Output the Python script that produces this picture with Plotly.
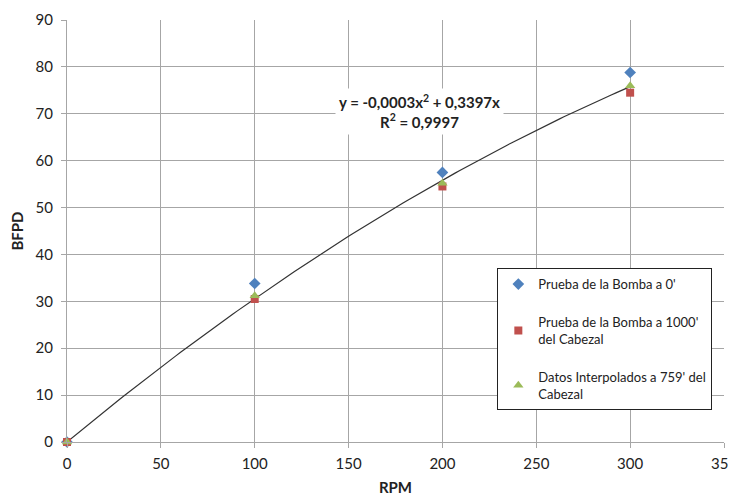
import numpy as np
import plotly.graph_objects as go

# values
rpm = [0, 100, 200, 300]
bfpd_0 = [0, 33.8, 57.5, 78.8]
bfpd_1000 = [0, 30.5, 54.5, 74.5]
bfpd_759 = [0, 31.2, 55.2, 76.0]

names = [
    "Prueba de la Bomba a 0'",
    "Prueba de la Bomba a 1000'<br>del Cabezal",
    "Datos Interpolados a 759' del<br>Cabezal",
]

FONT = "Lato, 'Open Sans', sans-serif"

# polynomial trendline through origin (order 2), fitted on the interpolated series
x = np.array(rpm, dtype=float)
A = np.vstack([x ** 2, x]).T
coef, *_ = np.linalg.lstsq(A, np.array(bfpd_759), rcond=None)
xs = np.linspace(0, 300, 120)
ys = coef[0] * xs ** 2 + coef[1] * xs

fig = go.Figure()

fig.add_trace(go.Scatter(
    x=xs, y=ys, mode="lines", line=dict(color="#333333", width=1.2),
    showlegend=False, hoverinfo="skip", cliponaxis=False
))
fig.add_trace(go.Scatter(
    x=rpm, y=bfpd_0, mode="markers", name=names[0], legendgroup="a", cliponaxis=False,
    marker=dict(symbol="diamond", size=9, color="#4F81BD")
))
fig.add_trace(go.Scatter(
    x=rpm, y=bfpd_1000, mode="markers", name=names[1], legendgroup="b", cliponaxis=False,
    marker=dict(symbol="square", size=8, color="#C0504D")
))
fig.add_trace(go.Scatter(
    x=rpm, y=bfpd_759, mode="markers", name=names[2], legendgroup="c", cliponaxis=False,
    marker=dict(symbol="triangle-up", size=9, color="#9BBB59")
))

fig.add_annotation(
    x=188, y=70.4, xref="x", yref="y",
    text="<b>y = -0,0003x<sup>2</sup> + 0,3397x<br>R<sup>2</sup> = 0,9997</b>",
    showarrow=False, bgcolor="white", font=dict(family=FONT, size=15, color="#222"),
    align="center", borderpad=3
)

fig.update_layout(
    width=736, height=497,
    margin=dict(l=59, r=20, t=12, b=63, autoexpand=False),
    paper_bgcolor="white", plot_bgcolor="white",
    font=dict(family=FONT, size=15, color="#222"),
    xaxis=dict(
        range=[0, 350], dtick=50, showgrid=True, gridcolor="#A6A6A6", gridwidth=1,
        zeroline=False, showline=True, linecolor="#A6A6A6", ticks="outside",
        tickcolor="#A6A6A6", ticklen=5, automargin=False, ticklabelstandoff=3,
        title=dict(text="<b>RPM</b>", font=dict(size=15), standoff=11),
    ),
    yaxis=dict(
        range=[0, 90], dtick=10, showgrid=True, gridcolor="#A6A6A6", gridwidth=1,
        zeroline=False, showline=True, linecolor="#A6A6A6", ticks="outside",
        tickcolor="#A6A6A6", ticklen=5, automargin=False, ticklabelstandoff=5,
        title=dict(text="<b>BFPD</b>", font=dict(size=15), standoff=12),
    ),
    legend=dict(
        x=0.655, y=0.412, xanchor="left", yanchor="top",
        bgcolor="white", bordercolor="#222", borderwidth=1,
        font=dict(family=FONT, size=13, color="#222"),
        tracegroupgap=18, itemwidth=30,
    ),
)

fig.write_html("out.html")
